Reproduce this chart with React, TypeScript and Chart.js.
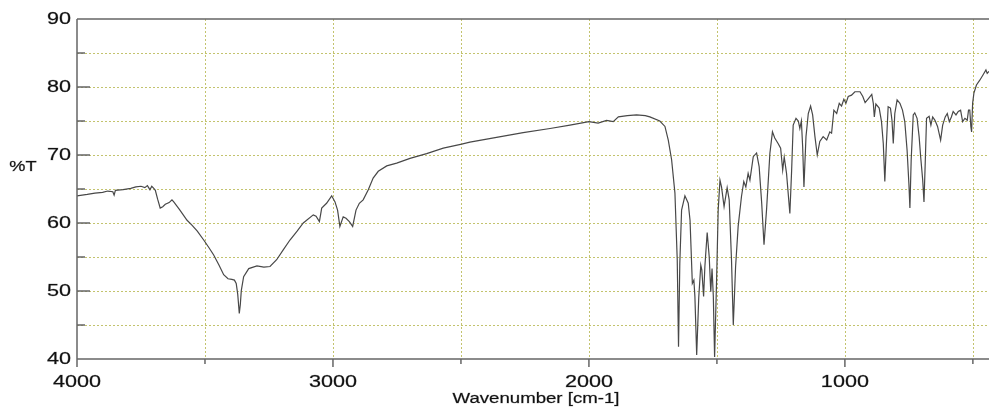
import React, { useEffect, useRef } from "react";
import { Chart, registerables } from "chart.js";

Chart.register(...registerables);

const wavenumbers: number[] = [
  4000, 3960, 3930, 3900, 3880, 3860, 3855, 3850, 3820, 3790, 3770, 3750, 3735, 3725, 3715, 3708, 3700,
  3694, 3685, 3675, 3665, 3655, 3640, 3629, 3622, 3600, 3570, 3551, 3530, 3505, 3485, 3466, 3445, 3427,
  3410, 3395, 3385, 3378, 3372, 3366, 3362, 3358, 3349, 3329, 3297, 3270, 3246, 3220, 3195, 3168, 3140,
  3116, 3077, 3066, 3053, 3044, 3025, 3005, 2992, 2982, 2973, 2960, 2949, 2936, 2923, 2910, 2897, 2882,
  2862, 2843, 2823, 2790, 2751, 2699, 2634, 2569, 2497, 2465, 2361, 2257, 2152, 2074, 2000, 1964, 1931,
  1905, 1885, 1850, 1814, 1780, 1762, 1723, 1703, 1690, 1677, 1664, 1655, 1650, 1645, 1638, 1625, 1612,
  1605, 1596, 1590, 1586, 1579, 1571, 1563, 1559, 1552, 1547, 1538, 1530, 1524, 1519, 1514, 1509, 1501,
  1495, 1488, 1482, 1472, 1460, 1452, 1443, 1436, 1427, 1417, 1404, 1395, 1387, 1378, 1371, 1358, 1345,
  1335, 1325, 1316, 1306, 1293, 1283, 1274, 1261, 1251, 1243, 1237, 1228, 1215, 1208, 1202, 1191, 1182,
  1176, 1170, 1165, 1160, 1152, 1143, 1134, 1126, 1117, 1108, 1098, 1085, 1071, 1059, 1052, 1043, 1032,
  1022, 1013, 1004, 996, 987, 974, 961, 941, 930, 921, 908, 895, 889, 885, 879, 866, 857, 850, 844, 838,
  831, 822, 816, 811, 805, 796, 785, 775, 766, 757, 750, 746, 741, 733, 727, 718, 710, 704, 696, 691, 686,
  681, 671, 664, 657, 648, 638, 626, 618, 608, 600, 592, 584, 577, 566, 557, 548, 540, 531, 522, 517, 512,
  508, 505, 501, 496, 486, 473, 460, 449, 444, 437,
];

const transmittance: number[] = [
  64.0, 64.2, 64.4, 64.5, 64.7, 64.6, 64.1, 64.8, 64.9, 65.1, 65.3, 65.4, 65.2, 65.5, 64.9, 65.4, 65.1,
  64.8, 63.5, 62.2, 62.4, 62.75, 63.0, 63.4, 63.1, 62.0, 60.4, 59.7, 58.8, 57.5, 56.4, 55.3, 53.8, 52.4,
  51.8, 51.7, 51.6, 51.1, 49.5, 46.7, 48.0, 50.1, 52.1, 53.3, 53.7, 53.5, 53.6, 54.6, 56.0, 57.5, 58.8,
  60.0, 61.2, 61.0, 60.2, 62.2, 62.9, 64.0, 63.1, 61.9, 59.5, 60.9, 60.7, 60.2, 59.5, 61.9, 62.9, 63.4,
  64.9, 66.6, 67.6, 68.4, 68.8, 69.5, 70.2, 71.0, 71.6, 71.9, 72.6, 73.3, 73.9, 74.4, 74.9, 74.7, 75.1,
  74.9, 75.6, 75.8, 75.9, 75.8, 75.6, 75.0, 74.2, 72.2, 69.3, 64.4, 54.6, 41.8, 54.0, 61.9, 64.0, 62.9,
  60.4, 51.1, 51.6, 49.2, 40.6, 49.0, 53.8, 53.1, 49.2, 53.6, 58.6, 55.0, 49.9, 53.3, 49.2, 40.3, 52.0,
  61.9, 66.3, 65.3, 62.4, 65.2, 63.4, 54.6, 45.0, 53.6, 59.5, 63.9, 66.1, 65.3, 67.3, 66.3, 69.75, 70.3,
  68.3, 62.9, 56.8, 62.0, 70.25, 73.4, 72.5, 71.7, 71.0, 67.8, 69.7, 67.3, 61.4, 67.8, 74.4, 75.4, 75.0,
  73.9, 75.0, 71.2, 65.3, 72.7, 76.1, 77.2, 75.9, 72.7, 70.0, 72.0, 72.7, 72.2, 73.4, 73.2, 76.6, 76.1,
  77.6, 77.2, 78.2, 77.6, 78.6, 78.8, 79.3, 79.3, 78.6, 77.7, 78.3, 78.9, 77.6, 75.6, 77.5, 76.9, 74.9, 71.7, 66.1, 71.5,
  77.1, 76.9, 75.1, 71.7, 76.1, 78.1, 77.6, 76.6, 74.9, 70.7, 65.8, 62.2, 69.3, 75.9, 76.2, 75.4, 72.7, 69.75, 66.3, 63.1, 69.0,
  75.4, 75.7, 74.4, 75.6, 75.1, 74.2, 72.2, 74.4, 75.6, 76.1, 74.9, 75.6, 76.4, 75.9, 76.4, 76.6, 74.9, 75.4, 75.1, 76.6, 76.6,
  74.2, 73.4, 77.6, 79.1, 80.3, 81.0, 81.8, 82.5, 82.0, 82.3,
];

const xTickValues: number[] = [500, 1000, 1500, 2000, 2500, 3000, 3500, 4000];
const xTickLabels: string[] = ["", "1000", "", "2000", "", "3000", "", "4000"];
const yTickValues: number[] = [40, 45, 50, 55, 60, 65, 70, 75, 80, 85, 90];
const yTickLabels: string[] = ["40", "", "50", "", "60", "", "70", "", "80", "", "90"];
const xTitle = "Wavenumber [cm-1]";
const yTitle = "%T";

const X_MIN = 437;
const X_MAX = 4000;
const Y_MIN = 40;
const Y_MAX = 90;

function stretchedText(ctx: CanvasRenderingContext2D, text: string, x: number, y: number, size: number, sx: number, align: "left" | "center" | "right") {
  ctx.save();
  ctx.font = `${size}px "Liberation Sans", Arial, sans-serif`;
  ctx.textBaseline = "middle";
  ctx.textAlign = align;
  ctx.fillStyle = "#111";
  ctx.strokeStyle = "rgba(17,17,17,0.45)";
  ctx.lineWidth = 0.5;
  ctx.translate(x, y);
  ctx.scale(sx, 1);
  ctx.fillText(text, 0, 0);
  ctx.strokeText(text, 0, 0);
  ctx.restore();
}

const decorPlugin = {
  id: "irDecor",
  beforeDatasetsDraw(chart: any) {
    const { ctx, chartArea } = chart;
    const xs = chart.scales.x;
    const ys = chart.scales.y;
    ctx.save();
    ctx.strokeStyle = "#c3c36e";
    ctx.lineWidth = 1;
    ctx.setLineDash([2, 2]);
    xTickValues.forEach((v) => {
      if (v === X_MAX) return;
      const px = Math.round(xs.getPixelForValue(v)) + 0.5;
      ctx.beginPath();
      ctx.moveTo(px, chartArea.top);
      ctx.lineTo(px, chartArea.bottom);
      ctx.stroke();
    });
    yTickValues.forEach((v) => {
      if (v === Y_MIN || v === Y_MAX) return;
      const py = Math.round(ys.getPixelForValue(v)) + 0.5;
      ctx.beginPath();
      ctx.moveTo(chartArea.left, py);
      ctx.lineTo(chartArea.right, py);
      ctx.stroke();
    });
    ctx.restore();
  },
  afterDatasetsDraw(chart: any) {
    const { ctx, chartArea } = chart;
    const xs = chart.scales.x;
    const ys = chart.scales.y;
    const L = chartArea.left;
    const B = chartArea.bottom;
    const T = chartArea.top;
    const R = chartArea.right;
    ctx.save();
    ctx.strokeStyle = "#666";
    ctx.lineWidth = 1.5;
    ctx.setLineDash([]);
    ctx.beginPath();
    ctx.moveTo(L, T);
    ctx.lineTo(L, B + 8);
    ctx.moveTo(L, B);
    ctx.lineTo(R, B);
    ctx.moveTo(L, T);
    ctx.lineTo(R, T);
    yTickValues.forEach((v, i) => {
      if (v === Y_MIN || v === Y_MAX) return;
      const py = ys.getPixelForValue(v);
      const len = yTickLabels[i] ? 13 : 8;
      ctx.moveTo(L, py);
      ctx.lineTo(L + len, py);
    });
    xTickValues.forEach((v, i) => {
      if (v === X_MAX) return;
      const px = xs.getPixelForValue(v);
      const len = xTickLabels[i] ? 8 : 5;
      ctx.moveTo(px, B);
      ctx.lineTo(px, B + len);
    });
    ctx.stroke();
    ctx.restore();

    yTickValues.forEach((v, i) => {
      if (!yTickLabels[i]) return;
      stretchedText(ctx, yTickLabels[i], L - 6, ys.getPixelForValue(v) + 1, 16, 1.35, "right");
    });
    xTickValues.forEach((v, i) => {
      if (!xTickLabels[i]) return;
      stretchedText(ctx, xTickLabels[i], xs.getPixelForValue(v), B + 24, 16, 1.35, "center");
    });
    stretchedText(ctx, xTitle, (L + R) / 2 + 3, B + 40, 14, 1.33, "center");
    stretchedText(ctx, yTitle, 23, T + 148, 14, 1.3, "center");
  },
};

export default function App() {
  const canvasRef = useRef<HTMLCanvasElement | null>(null);

  useEffect(() => {
    const canvas = canvasRef.current;
    if (!canvas) return;
    const points = wavenumbers.map((w, i) => ({ x: w, y: transmittance[i] }));
    const chart = new Chart(canvas, {
      type: "line",
      data: {
        datasets: [
          {
            data: points,
            borderColor: "#484848",
            borderWidth: 1.2,
            pointRadius: 0,
            tension: 0,
            fill: false,
          },
        ],
      },
      options: {
        animation: false,
        responsive: false,
        devicePixelRatio: 1,
        layout: { padding: { top: 19, right: 0, left: 0, bottom: 0 } },
        plugins: { legend: { display: false }, tooltip: { enabled: false } },
        scales: {
          x: {
            type: "linear",
            reverse: true,
            min: X_MIN,
            max: X_MAX,
            grid: { display: false },
            border: { display: false },
            ticks: { display: false },
            afterBuildTicks: (scale: any) => {
              scale.ticks = xTickValues.map((v) => ({ value: v }));
            },
            afterFit: (scale: any) => {
              scale.height = 50;
            },
          },
          y: {
            type: "linear",
            min: Y_MIN,
            max: Y_MAX,
            grid: { display: false },
            border: { display: false },
            ticks: { display: false },
            afterBuildTicks: (scale: any) => {
              scale.ticks = yTickValues.map((v) => ({ value: v }));
            },
            afterFit: (scale: any) => {
              scale.width = 77;
            },
          },
        },
      },
      plugins: [decorPlugin],
    });
    return () => chart.destroy();
  }, []);

  return (
    <div style={{ position: "absolute", left: 0, top: 0, width: 989, height: 409, background: "#fff" }}>
      <canvas ref={canvasRef} width={989} height={409} style={{ display: "block" }} />
    </div>
  );
}
